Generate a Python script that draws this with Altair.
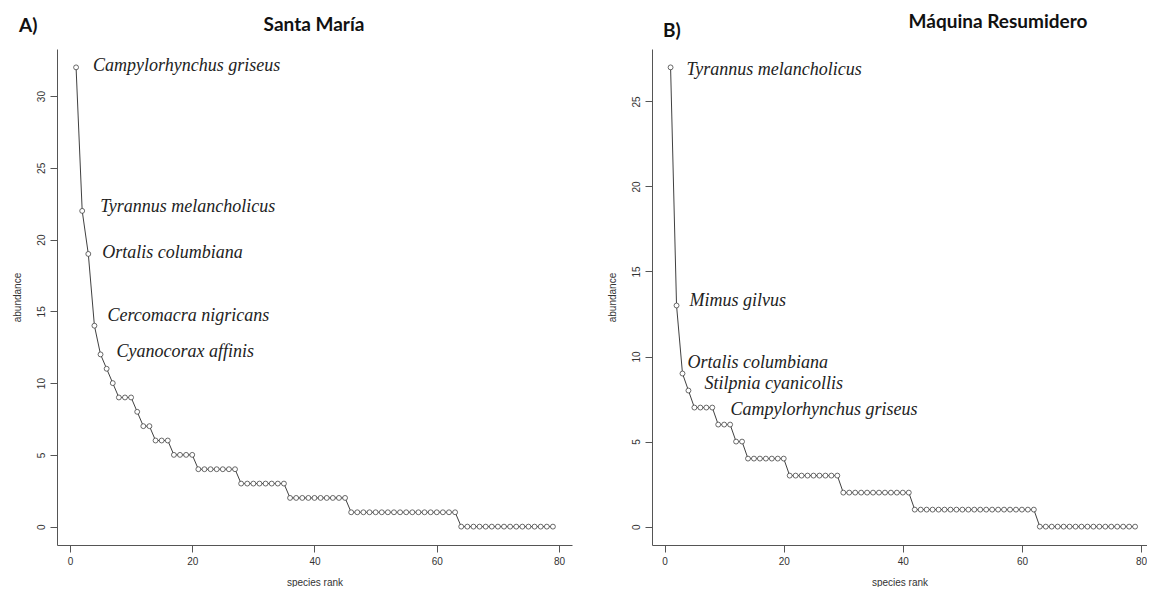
import altair as alt
import pandas as pd

# ---------------- data ----------------
ranks = list(range(1, 80))

abund_santa_maria = [32, 22, 19, 14, 12, 11, 10, 9, 9, 9, 8, 7, 7, 6, 6, 6,
                     5, 5, 5, 5,
                     4, 4, 4, 4, 4, 4, 4,
                     3, 3, 3, 3, 3, 3, 3, 3,
                     2, 2, 2, 2, 2, 2, 2, 2, 2, 2,
                     1, 1, 1, 1, 1, 1, 1, 1, 1, 1, 1, 1, 1, 1, 1, 1, 1, 1,
                     0, 0, 0, 0, 0, 0, 0, 0, 0, 0, 0, 0, 0, 0, 0, 0]

abund_maquina = [27, 13, 9, 8, 7, 7, 7, 7, 6, 6, 6, 5, 5,
                 4, 4, 4, 4, 4, 4, 4,
                 3, 3, 3, 3, 3, 3, 3, 3, 3,
                 2, 2, 2, 2, 2, 2, 2, 2, 2, 2, 2, 2,
                 1, 1, 1, 1, 1, 1, 1, 1, 1, 1, 1, 1, 1, 1, 1, 1, 1, 1, 1, 1, 1,
                 0, 0, 0, 0, 0, 0, 0, 0, 0, 0, 0, 0, 0, 0, 0, 0, 0]

names_santa_maria = ["Campylorhynchus griseus", "Tyrannus melancholicus",
                     "Ortalis columbiana", "Cercomacra nigricans",
                     "Cyanocorax affinis"]
name_ranks_santa_maria = [1, 2, 3, 4, 5]

names_maquina = ["Tyrannus melancholicus", "Mimus gilvus",
                 "Ortalis columbiana", "Stilpnia cyanicollis",
                 "Campylorhynchus griseus"]
name_ranks_maquina = [1, 2, 3, 4, 5]

x_ticks = [0, 20, 40, 60, 80]
y_ticks_santa_maria = [0, 5, 10, 15, 20, 25, 30]
y_ticks_maquina = [0, 5, 10, 15, 20, 25]

# ---------------- style ----------------
label_offsets_a = [(17, -1), (18, -4), (14, -1), (13, -10), (16, -2)]
label_offsets_b = [(16, 3), (13, -5), (5, -11), (16, -7), (36, 2)]

AXIS_GRAY = "#555555"
TEXT_GRAY = "#333333"


def r_domain(vals, hi_pad=None):
    lo, hi = min(vals), max(vals)
    pad = 0.04 * (hi - lo)
    return [lo - pad, hi + (pad if hi_pad is None else hi_pad)]


def panel(values, yticks, names, name_ranks, offsets, title, title_x, title_y,
          letter, letter_x, letter_y, width, height, x_hi_pad=None):
    df = pd.DataFrame({"rank": ranks, "abundance": values})
    xs = alt.Scale(domain=r_domain(ranks, x_hi_pad), nice=False, zero=False)
    ys = alt.Scale(domain=r_domain(values), nice=False, zero=False)

    x = alt.X("rank:Q", scale=xs,
              axis=alt.Axis(values=x_ticks, title="species rank", grid=False,
                            tickSize=7, labelPadding=4, minExtent=22,
                            maxExtent=22, titlePadding=10, labelFlush=False))
    y = alt.Y("abundance:Q", scale=ys,
              axis=alt.Axis(values=yticks, title="abundance", grid=False,
                            tickSize=7, labelPadding=4, labelAngle=270,
                            labelAlign="center", labelBaseline="bottom",
                            minExtent=22, maxExtent=22, titlePadding=12.5,
                            labelFlush=False))

    base = alt.Chart(df)
    line = base.mark_line(color="#2a2a2a", strokeWidth=0.9).encode(x=x, y=y)
    pts = base.mark_point(shape="circle", filled=True, fill="white",
                          stroke="#444444", strokeWidth=0.8, size=24,
                          opacity=1).encode(x=x, y=y)

    layers = [line, pts]
    for nm, rk, (dx, dy) in zip(names, name_ranks, offsets):
        ldf = pd.DataFrame({"rank": [rk], "abundance": [values[rk - 1]],
                            "name": [nm]})
        layers.append(
            alt.Chart(ldf).mark_text(
                align="left", baseline="middle", dx=dx, dy=dy,
                font="Liberation Serif", fontStyle="italic", fontSize=18,
                color="#222222").encode(
                x=alt.X("rank:Q", scale=xs),
                y=alt.Y("abundance:Q", scale=ys),
                text="name:N")
        )

    layers.append(
        alt.Chart(pd.DataFrame({"t": [title]})).mark_text(
            font="Lato", fontWeight="bold", fontSize=19, align="center",
            baseline="alphabetic", color="#111111").encode(
            x=alt.value(title_x), y=alt.value(title_y), text="t:N")
    )
    layers.append(
        alt.Chart(pd.DataFrame({"t": [letter]})).mark_text(
            font="Lato", fontWeight="bold", fontSize=19, align="left",
            baseline="alphabetic", color="#111111").encode(
            x=alt.value(letter_x), y=alt.value(letter_y), text="t:N")
    )
    return alt.layer(*layers).properties(width=width, height=height)


pa = panel(abund_santa_maria, y_ticks_santa_maria, names_santa_maria,
           name_ranks_santa_maria, label_offsets_a, "Santa María", 257, -18,
           "A)", -38, -17, 515, 496)
pb = panel(abund_maquina, y_ticks_maquina, names_maquina, name_ranks_maquina,
           label_offsets_b, "Máquina Resumidero", 346, -21, "B)", 11, -12,
           495, 496, x_hi_pad=2.0)

chart = alt.hconcat(pa, pb, spacing=35).properties(
    padding={"left": 4, "top": 5, "right": 0, "bottom": 0}
).configure_view(stroke=None).configure_axis(
    domainColor=AXIS_GRAY, tickColor=AXIS_GRAY, labelColor=TEXT_GRAY,
    titleColor=TEXT_GRAY, labelFont="Liberation Sans",
    titleFont="Liberation Sans", labelFontSize=10, titleFontSize=10,
    titleFontWeight="normal", domainWidth=1, tickWidth=1
)

chart.save("out.html", embed_options={"renderer": "svg", "actions": False})
